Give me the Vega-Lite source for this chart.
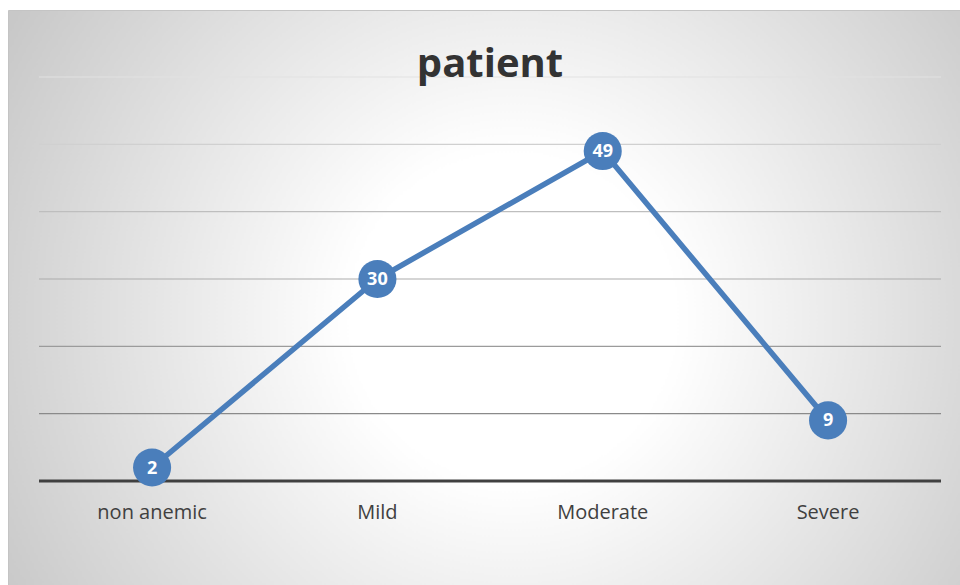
{
  "$schema": "https://vega.github.io/schema/vega-lite/v6.json",
  "width": 952,
  "height": 575,
  "autosize": {"type": "none"},
  "padding": {"left": 8, "top": 10, "right": 0, "bottom": 0},
  "background": "white",
  "view": {
    "stroke": "#c4c4c4",
    "fill": {
      "gradient": "radial",
      "x1": 0.53, "y1": 0.52, "r1": 0,
      "x2": 0.53, "y2": 0.52, "r2": 0.61,
      "stops": [
        {"offset": 0, "color": "#ffffff"},
        {"offset": 0.28, "color": "#ffffff"},
        {"offset": 1, "color": "#c8c8c8"}
      ]
    }
  },
  "config": {"font": "Open Sans"},
  "datasets": {
    "main": [
      {"category": "non anemic", "patients": 2},
      {"category": "Mild", "patients": 30},
      {"category": "Moderate", "patients": 49},
      {"category": "Severe", "patients": 9}
    ],
    "grid": [{"v": 10}, {"v": 20}, {"v": 30}, {"v": 40}, {"v": 50}, {"v": 60}]
  },
  "layer": [
    {
      "data": {"name": "grid"},
      "mark": {"type": "rule", "strokeWidth": 1.2},
      "encoding": {
        "y": {"field": "v", "type": "quantitative", "scale": {"domain": [-15.45, 69.95], "nice": false, "zero": false}, "axis": null},
        "x": {"datum": 0, "type": "quantitative", "scale": {"domain": [-0.03437, 1.02106], "nice": false, "zero": false}, "axis": null},
        "x2": {"datum": 1},
        "color": {"field": "v", "type": "quantitative", "scale": {"domain": [10, 60], "range": ["#8a8a8a", "#e2e2e2"]}, "legend": null}
      }
    },
    {
      "data": {"values": [{"v": 0}]},
      "mark": {"type": "rule", "strokeWidth": 3, "color": "#404040"},
      "encoding": {
        "y": {"field": "v", "type": "quantitative", "axis": null},
        "x": {"datum": 0, "type": "quantitative", "scale": {"domain": [-0.03437, 1.02106], "nice": false, "zero": false}, "axis": null},
        "x2": {"datum": 1}
      }
    },
    {
      "data": {"name": "main"},
      "mark": {"type": "line", "strokeWidth": 5.5, "color": "#4a7ebb"},
      "encoding": {
        "x": {"field": "category", "type": "nominal", "sort": null, "scale": {"type": "point", "domain": ["non anemic", "Mild", "Moderate", "Severe"], "padding": 0.6125, "align": 0.522}, "axis": null},
        "y": {"field": "patients", "type": "quantitative", "axis": null}
      }
    },
    {
      "data": {"name": "main"},
      "mark": {"type": "circle", "size": 1450, "opacity": 1, "color": "#4a7ebb"},
      "encoding": {
        "x": {"field": "category", "type": "nominal", "sort": null, "scale": {"type": "point", "domain": ["non anemic", "Mild", "Moderate", "Severe"], "padding": 0.6125, "align": 0.522}, "axis": null},
        "y": {"field": "patients", "type": "quantitative", "axis": null}
      }
    },
    {
      "data": {"name": "main"},
      "mark": {"type": "text", "color": "white", "fontSize": 18, "fontWeight": "bold", "baseline": "middle", "align": "center", "dy": 1},
      "encoding": {
        "x": {"field": "category", "type": "nominal", "sort": null, "scale": {"type": "point", "domain": ["non anemic", "Mild", "Moderate", "Severe"], "padding": 0.6125, "align": 0.522}, "axis": null},
        "y": {"field": "patients", "type": "quantitative", "axis": null},
        "text": {"field": "patients", "type": "quantitative"}
      }
    },
    {
      "data": {"name": "main"},
      "mark": {"type": "text", "color": "#404040", "fontSize": 20, "baseline": "alphabetic", "align": "center"},
      "encoding": {
        "x": {"field": "category", "type": "nominal", "sort": null, "scale": {"type": "point", "domain": ["non anemic", "Mild", "Moderate", "Severe"], "padding": 0.6125, "align": 0.522}, "axis": null},
        "y": {"datum": -5.65, "type": "quantitative", "axis": null},
        "text": {"field": "category", "type": "nominal"}
      }
    },
    {
      "data": {"values": [{"t": "patient"}]},
      "mark": {"type": "text", "color": "#333333", "fontSize": 40, "fontWeight": "bold", "baseline": "alphabetic", "align": "center"},
      "encoding": {
        "x": {"datum": 0.5, "type": "quantitative", "scale": {"domain": [-0.03437, 1.02106], "nice": false, "zero": false}, "axis": null},
        "y": {"datum": 60, "type": "quantitative", "axis": null},
        "text": {"field": "t", "type": "nominal"}
      }
    }
  ],
  "resolve": {"scale": {"x": "independent", "color": "independent"}}
}
